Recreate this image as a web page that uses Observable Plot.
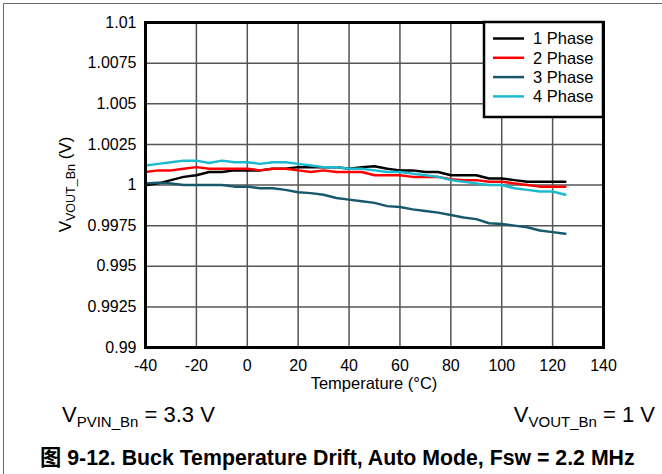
<!DOCTYPE html>
<html><head><meta charset="utf-8">
<script src="https://cdn.jsdelivr.net/npm/d3@7"></script>
<script src="https://cdn.jsdelivr.net/npm/@observablehq/plot@0.6"></script>
<style>
html,body{margin:0;padding:0;background:#fff;}
#chart{position:relative;width:662px;height:474px;overflow:hidden;}
</style></head>
<body><div id="chart"></div>
<script>
const temps = [-40,-35,-30,-25,-20,-15,-10,-5,0,5,10,15,20,25,30,35,40,45,50,55,60,65,70,75,80,85,90,95,100,105,110,115,120,125];
const phase1 = [0.99998,1.0001,1.0003,1.0005,1.0006,1.0008,1.0008,1.0009,1.0009,1.0009,1.0010,1.0010,1.0011,1.0011,1.0011,1.0011,1.0010,1.0011,1.00115,1.0010,1.0009,1.0009,1.0008,1.0008,1.0006,1.0006,1.0006,1.0004,1.0004,1.0003,1.0002,1.0002,1.0002,1.0002];
const phase2 = [1.0008,1.0009,1.0009,1.0010,1.0011,1.0010,1.0010,1.0010,1.0010,1.0009,1.0010,1.0010,1.0009,1.0008,1.0009,1.0008,1.0008,1.0008,1.0006,1.0006,1.0006,1.0005,1.0005,1.0005,1.00035,1.0003,1.0003,1.0002,1.0002,1.0001,1.0000,0.9999,0.9999,0.9999];
const phase3 = [1.0001,1.00014,1.0001,1.0000,1.0000,1.0000,1.0000,0.9999,0.9999,0.9998,0.9998,0.9997,0.99955,0.9995,0.9994,0.9992,0.9991,0.9990,0.9989,0.9987,0.99865,0.9985,0.9984,0.9983,0.99815,0.9980,0.9979,0.99765,0.9976,0.9975,0.9974,0.9972,0.9971,0.9970];
const phase4 = [1.0012,1.0013,1.0014,1.0015,1.0015,1.00135,1.0015,1.0014,1.0014,1.0013,1.0014,1.0014,1.0013,1.0012,1.0011,1.0011,1.0010,1.0010,1.0009,1.0008,1.0008,1.0007,1.0006,1.0005,1.0003,1.0002,1.0001,1.0000,1.0000,0.9998,0.9997,0.9996,0.9996,0.9994];
const seriesNames = ["1 Phase","2 Phase","3 Phase","4 Phase"];
const seriesColors = ["#000000","#ff0000","#17596b","#1bbad0"];
const xTicks = [-40,-20,0,20,40,60,80,100,120,140];
const xTickLabels = ["-40","-20","0","20","40","60","80","100","120","140"];
const yTicks = [0.99,0.9925,0.995,0.9975,1,1.0025,1.005,1.0075,1.01];
const yTickLabels = ["0.99","0.9925","0.995","0.9975","1","1.0025","1.005","1.0075","1.01"];
const xLabel = "Temperature (°C)";
const caption = "图 9-12. Buck Temperature Drift, Auto Mode, Fsw = 2.2 MHz";

const allSeries = [phase1, phase2, phase3, phase4];
const data = seriesNames.flatMap((name, i) => temps.map((t, j) => ({series: name, t, v: allSeries[i][j]})));

const font = "'Liberation Sans', Arial, 'Noto Sans CJK SC', sans-serif";
const W = 662, H = 474, mL = 145, mR = 59, mT = 22, mB = 127;

const svg = Plot.plot({
  width: W, height: H,
  marginLeft: mL, marginRight: mR, marginTop: mT, marginBottom: mB,
  style: {fontFamily: font, fontSize: "16px", color: "#000", background: "#fff", overflow: "visible"},
  x: {domain: [-40, 140], ticks: xTicks, label: null},
  y: {domain: [0.99, 1.01], ticks: yTicks, label: null},
  color: {domain: seriesNames, range: seriesColors},
  marks: [
    Plot.gridX(xTicks, {stroke: "#555", strokeOpacity: 1, strokeWidth: 1.5}),
    Plot.gridY(yTicks, {stroke: "#555", strokeOpacity: 1, strokeWidth: 1.5}),
    Plot.line(data, {x: "t", y: "v", z: "series", stroke: "series", strokeWidth: 2.5}),
    Plot.frame({stroke: "#000", strokeWidth: 3}),
    Plot.axisX(xTicks, {tickSize: 0, tickPadding: 12, fontSize: 16, label: null,
      tickFormat: d => xTickLabels[xTicks.indexOf(d)]}),
    Plot.axisY(yTicks, {tickSize: 0, tickPadding: 9, fontSize: 16, label: null,
      tickFormat: d => yTickLabels[yTicks.indexOf(d)]})
  ]
});
document.getElementById("chart").appendChild(svg);

const s = d3.select(svg);
// outer page border
s.append("path").attr("d", "M3.5,474V3.5H662").attr("fill", "none").attr("stroke", "#666").attr("stroke-width", 1);

// legend
const lg = s.append("g").attr("font-family", font).attr("font-size", 16.5).attr("text-anchor", "start");
lg.append("rect").attr("x", 484).attr("y", 22).attr("width", 119).attr("height", 95)
  .attr("fill", "#fff").attr("stroke", "#000").attr("stroke-width", 2.5);
seriesNames.forEach((name, i) => {
  const y = 38.5 + i * 19.3;
  lg.append("line").attr("x1", 493).attr("x2", 524).attr("y1", y).attr("y2", y)
    .attr("stroke", seriesColors[i]).attr("stroke-width", 2.5);
  lg.append("text").attr("x", 533).attr("y", y + 5.8).attr("text-anchor", "start").text(name);
});

// x label
s.append("text").attr("x", 374).attr("y", 389).attr("text-anchor", "middle")
  .attr("font-family", font).attr("font-size", 16.5).text(xLabel);

// y label (rotated, with subscript)
const yl = s.append("text").attr("transform", "translate(71,184.5) rotate(-90)")
  .attr("text-anchor", "middle").attr("font-family", font).attr("font-size", 17);
yl.append("tspan").text("V");
yl.append("tspan").attr("font-size", 12.5).attr("dy", 4).text("VOUT_Bn");
yl.append("tspan").attr("dy", -4).text(" (V)");

// conditions
function cond(x, anchor, sub, rest) {
  const t = s.append("text").attr("x", x).attr("y", 422).attr("text-anchor", anchor)
    .attr("font-family", font).attr("font-size", 22);
  t.append("tspan").text("V");
  t.append("tspan").attr("font-size", 15).attr("dy", 5).text(sub);
  t.append("tspan").attr("dy", -5).text(rest);
}
cond(62, "start", "PVIN_Bn", " = 3.3 V");
cond(655, "end", "VOUT_Bn", " = 1 V");

// caption
s.append("text").attr("x", 40).attr("y", 465).attr("font-family", font).attr("text-anchor", "start")
  .attr("font-size", 21.3).attr("font-weight", "bold").text(caption);
</script></body></html>
